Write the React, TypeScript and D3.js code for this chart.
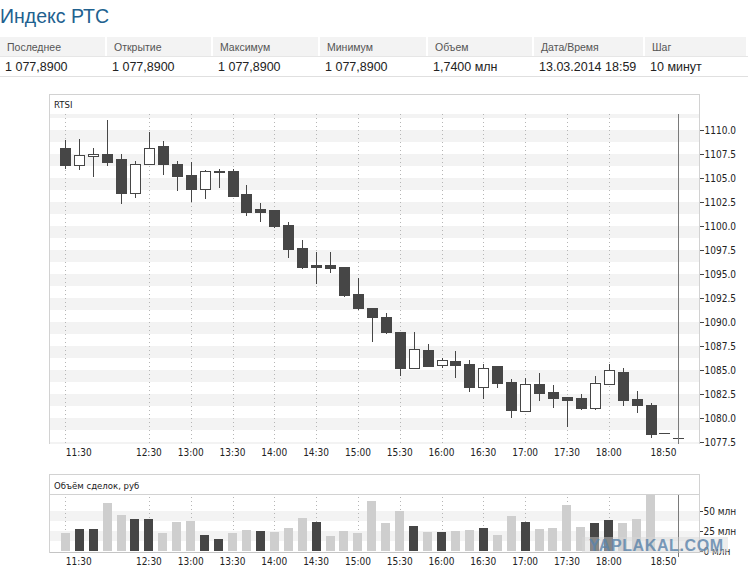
import * as d3 from 'd3';

const WIDTH = 752;
const HEIGHT = 576;

const FONT = "'DejaVu Sans Condensed', 'DejaVu Sans', sans-serif";
const TABLE_FONT = "'Liberation Sans', Arial, sans-serif";
const CANDLE = '#464646';
const VOL_LIGHT = '#cecece';
const BAND = '#f3f3f3';
const BORDER = '#d2d2d2';

export const TIMES = [
  '11:30', '11:40', '11:50', '12:00', '12:10', '12:20', '12:30', '12:40', '12:50',
  '13:00', '13:10', '13:20', '13:30', '13:40', '13:50', '14:00', '14:10', '14:20',
  '14:30', '14:40', '14:50', '15:00', '15:10', '15:20', '15:30', '15:40', '15:50',
  '16:00', '16:10', '16:20', '16:30', '16:40', '16:50', '17:00', '17:10', '17:20',
  '17:30', '17:40', '17:50', '18:00', '18:10', '18:20', '18:30', '18:40', '18:50',
];

const OPEN = [
  1108.13, 1106.39, 1107.26, 1107.5, 1106.98, 1103.47, 1106.43, 1108.33, 1106.46,
  1105.31, 1103.82, 1105.66, 1105.73, 1103.33, 1101.74, 1101.67, 1100.1, 1097.71,
  1095.94, 1095.94, 1095.7, 1092.92, 1091.49, 1090.55, 1088.96, 1085.24, 1087.08,
  1085.55, 1085.94, 1085.63, 1083.26, 1085.42, 1083.75, 1080.7, 1083.54, 1082.71,
  1082.19, 1082.08, 1081.07, 1083.51, 1084.79, 1081.98, 1081.35, 1078.4, 1077.89,
];
const HIGH = [
  1109.06, 1109.17, 1108.23, 1111.15, 1107.6, 1106.88, 1109.93, 1108.96, 1106.88,
  1106.77, 1105.9, 1106.07, 1106.0, 1104.38, 1102.5, 1101.67, 1100.52, 1098.65,
  1097.4, 1097.4, 1095.7, 1094.69, 1091.6, 1091.04, 1088.96, 1089.06, 1087.81,
  1086.38, 1087.08, 1086.15, 1085.76, 1085.52, 1084.17, 1084.27, 1084.79, 1083.54,
  1082.19, 1082.6, 1084.48, 1085.73, 1085.31, 1082.92, 1081.67, 1078.4, 1077.89,
];
const LOW = [
  1106.07, 1105.97, 1105.24, 1106.39, 1102.43, 1103.05, 1106.43, 1105.45, 1103.78,
  1102.64, 1102.95, 1104.09, 1103.13, 1101.18, 1100.55, 1099.93, 1096.8, 1095.66,
  1094.1, 1095.24, 1092.74, 1091.39, 1088.05, 1088.89, 1084.48, 1085.24, 1085.4,
  1085.28, 1084.3, 1082.85, 1082.08, 1083.26, 1080.14, 1080.7, 1081.88, 1081.15,
  1079.17, 1080.97, 1080.97, 1083.51, 1081.35, 1080.63, 1078.02, 1078.4, 1077.89,
];
const CLOSE = [
  1106.39, 1107.36, 1107.5, 1106.7, 1103.47, 1106.46, 1108.09, 1106.43, 1105.24,
  1103.89, 1105.76, 1105.76, 1103.13, 1101.49, 1101.49, 1100.03, 1097.64, 1095.76,
  1095.76, 1095.66, 1092.81, 1091.49, 1090.55, 1088.96, 1085.24, 1087.15, 1085.45,
  1086.0, 1085.55, 1083.26, 1085.18, 1083.68, 1080.83, 1083.54, 1082.64, 1082.1,
  1081.91, 1081.07, 1083.65, 1085.0, 1081.91, 1081.39, 1078.37, 1078.4, 1077.89,
];

// объём, млн руб
const VOLUME = [
  21.8, 27.8, 27.8, 60.3, 44.9, 39.3, 39.3, 21.8, 35.9,
  37.2, 20.1, 15.0, 21.8, 26.5, 24.4, 23.1, 29.1, 40.6,
  35.9, 18.8, 24.4, 21.8, 62.8, 34.6, 50.0, 30.8, 23.1,
  23.1, 24.4, 25.6, 28.2, 19.2, 43.6, 35.9, 26.9, 28.2,
  57.7, 29.5, 34.6, 38.5, 34.6, 39.7, 70.5, 0, 1.74,
];
const VOLUME_DARK = [
  0, 1, 1, 0, 0, 1, 1, 0, 0,
  0, 1, 1, 0, 0, 1, 0, 0, 0,
  1, 0, 0, 0, 0, 0, 0, 1, 0,
  1, 0, 0, 1, 0, 0, 1, 0, 0,
  0, 0, 1, 1, 0, 0, 0, 0, 0,
];

const PRICE_TICKS = [
  1110, 1107.5, 1105, 1102.5, 1100, 1097.5, 1095, 1092.5, 1090, 1087.5, 1085, 1082.5, 1080, 1077.5,
];
const VOLUME_TICKS = [50, 25, 0];
const AXIS_LABELS = [
  '11:30', '12:30', '13:00', '13:30', '14:00', '14:30', '15:00', '15:30',
  '16:00', '16:30', '17:00', '17:30', '18:00', '18:50',
];

const TABLE_HEADERS = ['Последнее', 'Открытие', 'Максимум', 'Минимум', 'Объем', 'Дата/Время', 'Шаг'];
const TABLE_VALUES = ['1 077,8900', '1 077,8900', '1 077,8900', '1 077,8900', '1,7400 млн', '13.03.2014 18:59', '10 минут'];
const TABLE_COLS = [0, 107, 213, 320, 428, 534, 645, 748];

const LEFT = 49.5;
const RIGHT = 699.5;
const MAIN_TOP = 114;
const MAIN_BOTTOM = 444;
const VOL_TOP = 494.5;
const VOL_BOTTOM = 552.5;

export default function App() {
  const x = d3.scalePoint<string>().domain(TIMES).range([65.3, 678.4]);
  const y = d3.scaleLinear().domain([1077.5, 1110]).range([442, 130]);
  const yVol = d3.scaleLinear().domain([0, 50]).range([550.5, 511]);

  const bodyW = x.step() * 0.76;
  const barW = 9;
  const last = TIMES[TIMES.length - 1];
  const cursorX = Math.round(x(last)!) + 0.5;

  const clampY = (v: number, a: number, b: number) => Math.max(a, Math.min(b, v));
  const bandStep = (PRICE_TICKS[0] - PRICE_TICKS[1]) / 2;
  const priceBands = [PRICE_TICKS[0] + 2 * bandStep, ...PRICE_TICKS].map((t) => {
    const y0 = clampY(y(t), MAIN_TOP, MAIN_BOTTOM);
    const y1 = clampY(y(t - bandStep), MAIN_TOP, MAIN_BOTTOM);
    return { y0, h: y1 - y0 };
  });
  const volBands = VOLUME_TICKS.filter((t) => t > 0).map((t) => ({
    y0: yVol(t),
    h: yVol(t - 12.5) - yVol(t),
  }));

  const labelAnchor = (i: number) =>
    i === 0 ? 'start' : i === AXIS_LABELS.length - 1 ? 'end' : 'middle';
  const labelX = (t: string, i: number) =>
    i === 0 ? x(t)! + 0.5 : i === AXIS_LABELS.length - 1 ? x(t)! - 2 : x(t)!;

  const candles = TIMES.map((t, i) => {
    const cx = Math.round(x(t)!) + 0.5;
    const o = OPEN[i];
    const c = CLOSE[i];
    const up = c > o;
    const flat = Math.abs(c - o) < 0.05;
    const top = Math.round(y(Math.max(o, c))) + 0.5;
    const bot = Math.round(y(Math.min(o, c))) + 0.5;
    const bx = Math.round(cx - bodyW / 2);
    return (
      <g key={t}>
        <line x1={cx} x2={cx} y1={Math.round(y(HIGH[i])) + 0.5} y2={Math.round(y(LOW[i])) + 0.5} stroke={CANDLE} />
        {flat ? (
          <line x1={bx} x2={bx + Math.round(bodyW)} y1={top} y2={top} stroke={CANDLE} />
        ) : up ? (
          <rect x={bx + 0.5} y={top} width={Math.round(bodyW) - 1} height={Math.max(bot - top, 1)} fill="#fff" stroke={CANDLE} />
        ) : (
          <rect x={bx} y={top - 0.5} width={Math.round(bodyW)} height={Math.max(bot - top + 1, 1)} fill={CANDLE} />
        )}
      </g>
    );
  });

  const bars = TIMES.map((t, i) => {
    const cx = x(t)!;
    const top = yVol(VOLUME[i]);
    return (
      <rect
        key={t}
        x={Math.round(cx - barW / 2)}
        y={top}
        width={barW}
        height={yVol(0) - top}
        fill={VOLUME_DARK[i] ? CANDLE : VOL_LIGHT}
      />
    );
  });

  return (
    <div style={{ position: 'absolute', left: 0, top: 0 }}>
      <svg width={WIDTH} height={HEIGHT} style={{ display: 'block', background: '#fff' }}>
        {/* header */}
        <text x={0} y={22.5} fontFamily={TABLE_FONT} fontSize={19.5} fill="#21618f">
          Индекс РТС
        </text>
        {TABLE_HEADERS.map((h, i) => (
          <g key={h}>
            <rect x={TABLE_COLS[i]} y={37} width={TABLE_COLS[i + 1] - TABLE_COLS[i] - 2} height={19} fill="#f3f3f3" />
            <text x={TABLE_COLS[i] + 7} y={50.5} fontFamily={TABLE_FONT} fontSize={10.5} fill="#555">
              {h}
            </text>
            <text x={TABLE_COLS[i] + 5} y={70.5} fontFamily={TABLE_FONT} fontSize={12.5} fill="#222">
              {TABLE_VALUES[i]}
            </text>
          </g>
        ))}
        <line x1={0} x2={748} y1={56.5} y2={56.5} stroke="#e6e6e6" />
        <line x1={0} x2={748} y1={76.5} y2={76.5} stroke="#e0e0e0" />

        {/* price panel */}
        <g shapeRendering="crispEdges">
          {priceBands.map((b, i) => (
            <rect key={i} x={LEFT} y={b.y0} width={RIGHT - LEFT} height={Math.max(b.h, 0)} fill={BAND} />
          ))}
          <path d={`M${LEFT},${MAIN_BOTTOM} V94.5 H${RIGHT} V${MAIN_BOTTOM}`} fill="none" stroke={BORDER} />
          {AXIS_LABELS.slice(0, -1).map((t) => (
            <line
              key={t}
              x1={Math.round(x(t)!) + 0.5}
              x2={Math.round(x(t)!) + 0.5}
              y1={MAIN_TOP}
              y2={MAIN_BOTTOM + 2}
              stroke="#b5b5b5"
              strokeDasharray="1,3"
            />
          ))}
        </g>
        <text x={54} y={107.5} fontFamily={FONT} fontSize={9.5} fill="#222">
          RTSI
        </text>
        <g shapeRendering="crispEdges">{candles}</g>
        <line x1={cursorX} x2={cursorX} y1={MAIN_TOP} y2={MAIN_BOTTOM} stroke="#7a7a7a" shapeRendering="crispEdges" />
        {PRICE_TICKS.map((t) => (
          <g key={t} transform={`translate(0,${Math.round(y(t)) + 0.5})`}>
            <line x1={RIGHT} x2={RIGHT + 4} stroke="#444" shapeRendering="crispEdges" />
            <text x={RIGHT + 5} dy="0.35em" fontFamily={FONT} fontSize={10} fill="#222">
              {t.toFixed(1)}
            </text>
          </g>
        ))}
        {AXIS_LABELS.map((t, i) => (
          <text key={t} x={labelX(t, i)} y={456} textAnchor={labelAnchor(i)} fontFamily={FONT} fontSize={10} fill="#222">
            {t}
          </text>
        ))}

        {/* volume panel */}
        <g shapeRendering="crispEdges">
          {volBands.map((b, i) => (
            <rect key={i} x={LEFT} y={b.y0} width={RIGHT - LEFT} height={b.h} fill={BAND} />
          ))}
          <rect x={LEFT} y={474.5} width={RIGHT - LEFT} height={VOL_BOTTOM - 474.5} fill="none" stroke={BORDER} />
          <line x1={LEFT} x2={RIGHT} y1={VOL_TOP} y2={VOL_TOP} stroke={BORDER} />
          {AXIS_LABELS.slice(0, -1).map((t) => (
            <line
              key={t}
              x1={Math.round(x(t)!) + 0.5}
              x2={Math.round(x(t)!) + 0.5}
              y1={VOL_TOP + 2}
              y2={VOL_BOTTOM}
              stroke="#b5b5b5"
              strokeDasharray="1,3"
            />
          ))}
          {bars}
          <line x1={LEFT} x2={RIGHT} y1={VOL_BOTTOM} y2={VOL_BOTTOM} stroke="#c4c4c4" />
          <line x1={cursorX} x2={cursorX} y1={VOL_TOP} y2={VOL_BOTTOM + 4} stroke="#7a7a7a" />
        </g>
        <text x={54} y={488.5} fontFamily={FONT} fontSize={9.5} fill="#222">
          Объём сделок, руб
        </text>
        {VOLUME_TICKS.map((t) => (
          <g key={t} transform={`translate(0,${Math.round(yVol(t)) + 0.5})`}>
            <line x1={RIGHT} x2={RIGHT + 3} stroke="#444" shapeRendering="crispEdges" />
            <text x={RIGHT + 4} dy="0.35em" fontFamily={FONT} fontSize={10} fill="#222">
              {`${t} млн`}
            </text>
          </g>
        ))}
        {AXIS_LABELS.map((t, i) => (
          <text key={t} x={labelX(t, i)} y={565} textAnchor={labelAnchor(i)} fontFamily={FONT} fontSize={10} fill="#222">
            {t}
          </text>
        ))}

        {/* watermark */}
        <rect x={582} y={537} width={146} height={16} fill="#d8d8d8" opacity={0.45} />
        <text
          x={589}
          y={551}
          fontFamily={TABLE_FONT}
          fontWeight="bold"
          fontSize={16}
          letterSpacing={0.6}
          fill="#5b84ab"
          opacity={0.8}
        >
          YAPLAKAL.COM
        </text>
      </svg>
    </div>
  );
}
